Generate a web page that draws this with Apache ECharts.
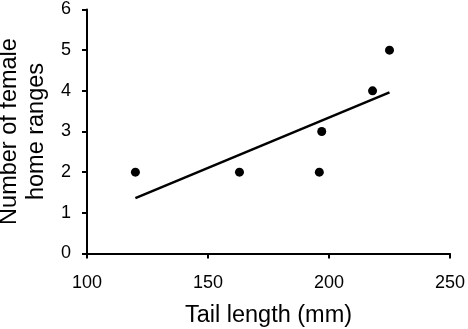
<!DOCTYPE html>
<html>
<head>
<meta charset="utf-8">
<script src="https://cdn.jsdelivr.net/npm/echarts@6/dist/echarts.min.js"></script>
<style>
  html, body { margin: 0; padding: 0; background: #fff; }
  #chart { width: 468px; height: 329px; }
</style>
</head>
<body>
<div id="chart"></div>
<script>
// observed points
const tailLength = [120, 163, 196, 197, 218, 225];
const homeRanges = [2, 2, 2, 3, 4, 5];
// fitted trend line, ends
const trendX = [120, 225];
const trendY = [1.36, 3.96];

(function () {
  const font = 'Liberation Sans, Arial, sans-serif';
  const axisStyle = {
    axisLine: { show: true, lineStyle: { color: '#000', width: 2 } },
    axisTick: { show: true, inside: false, length: 5, lineStyle: { color: '#000', width: 2 } },
    splitLine: { show: false }
  };

  const option = {
    backgroundColor: '#fff',
    animation: false,
    grid: { left: 87, right: 18, top: 9.5, bottom: 75.5, outerBoundsMode: 'none', containLabel: false },
    xAxis: Object.assign({
      type: 'value',
      min: 100,
      max: 250,
      interval: 50,
      name: 'Tail length (mm)',
      nameLocation: 'middle',
      nameGap: 50,
      nameTextStyle: { color: '#000', fontSize: 23.5, fontFamily: font },
      axisLabel: { color: '#000', fontSize: 18, fontFamily: font, margin: 21 }
    }, axisStyle),
    yAxis: Object.assign({
      type: 'value',
      min: 0,
      max: 6,
      interval: 1,
      name: 'Number of female\nhome ranges',
      nameLocation: 'middle',
      nameRotate: 90,
      nameGap: 28,
      nameTextStyle: { color: '#000', fontSize: 23.5, fontFamily: font, lineHeight: 27 },
      axisLabel: { color: '#000', fontSize: 18, fontFamily: font, margin: 16 }
    }, axisStyle),
    series: [
      {
        type: 'scatter',
        data: tailLength.map((x, i) => [x, homeRanges[i]]),
        symbol: 'circle',
        symbolSize: 9,
        itemStyle: { color: '#000', opacity: 1 }
      },
      {
        type: 'line',
        data: trendX.map((x, i) => [x, trendY[i]]),
        showSymbol: false,
        lineStyle: { color: '#000', width: 2.5 }
      }
    ]
  };

  const chart = echarts.init(document.getElementById('chart'));
  chart.setOption(option);
})();
</script>
</body>
</html>
